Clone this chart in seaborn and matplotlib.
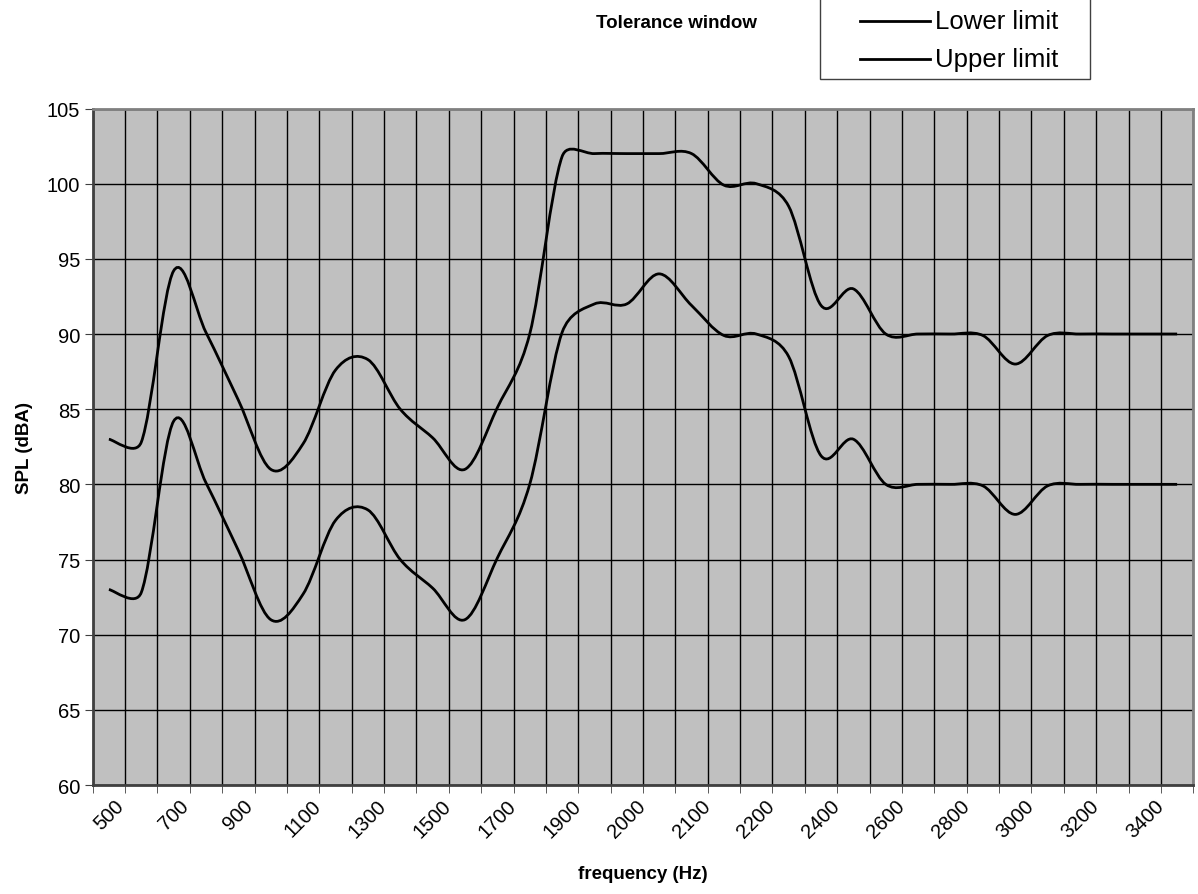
import numpy as np
import pandas as pd
import matplotlib
matplotlib.use("Agg")
import matplotlib.pyplot as plt
from matplotlib.path import Path
from matplotlib.patches import PathPatch, Rectangle
from matplotlib.lines import Line2D
import seaborn as sns

# data (one value per frequency category)
freq = [500, 600, 700, 800, 900, 1000, 1100, 1200, 1300, 1400, 1500, 1600, 1700, 1800,
        1900, 1950, 2000, 2050, 2100, 2150, 2200, 2300, 2400, 2500, 2600, 2700, 2800,
        2900, 3000, 3100, 3200, 3300, 3400, 3500]
lower_limit = [73.0, 72.8, 84.2, 80.1, 75.6, 71.0, 72.7, 77.6, 78.3, 75.0, 73.1, 71.0,
               75.1, 80.0, 90.1, 92.0, 92.0, 94.0, 91.9, 89.9, 90.0, 88.5, 81.9, 83.0,
               80.0, 80.0, 80.0, 79.9, 78.0, 79.9, 80.0, 80.0, 80.0, 80.0]
upper_limit = [83.0, 82.8, 94.2, 90.1, 85.6, 81.0, 82.7, 87.6, 88.3, 85.0, 83.1, 81.0,
               85.1, 90.0, 101.8, 102.0, 102.0, 102.0, 102.0, 99.9, 100.0, 98.5, 91.9,
               93.0, 90.0, 90.0, 90.0, 89.9, 88.0, 89.9, 90.0, 90.0, 90.0, 90.0]
series_names = ['Lower limit', 'Upper limit']

df = pd.DataFrame({'pos': list(range(len(freq))) * 2,
                   'spl': lower_limit + upper_limit,
                   'series': [series_names[0]] * len(freq) + [series_names[1]] * len(freq)})

plt.rcParams['font.family'] = ['Liberation Sans', 'DejaVu Sans']

W, H = 1198, 895
fig = plt.figure(figsize=(W / 100, H / 100), dpi=100)
ax = fig.add_axes([92.7 / W, 1 - 786 / H, (1193.3 - 92.7) / W, (786 - 109.5) / H])
ax.set_facecolor('#C0C0C0')

sns.lineplot(data=df, x='pos', y='spl', hue='series', palette=['black', 'black'],
             linewidth=2, legend=False, ax=ax)

ax.set_xlim(-0.5, len(freq) - 0.5)
ax.set_ylim(60, 105)


# Excel-like smoothed line: bezier through the data points, with the
# control arms limited to half the segment length (in screen space)
def smooth_path(xs, ys):
    P = ax.transData.transform(np.column_stack([xs, ys]))
    n = len(P)

    def arm(i, seg):
        a = P[min(i + 1, n - 1)] - P[max(i - 1, 0)]
        a = a / 6
        la = np.hypot(*a)
        lim = 0.5 * np.hypot(*seg)
        if la > lim:
            a = a * lim / la
        return a

    verts = [P[0]]
    codes = [Path.MOVETO]
    for i in range(n - 1):
        seg = P[i + 1] - P[i]
        c1 = P[i] + arm(i, seg)
        c2 = P[i + 1] - arm(i + 1, seg)
        verts += [c1, c2, P[i + 1]]
        codes += [Path.CURVE4] * 3
    verts = ax.transData.inverted().transform(np.array(verts))
    return Path(verts, codes)


for line in list(ax.lines):
    xs, ys = line.get_data()
    ax.add_patch(PathPatch(smooth_path(np.asarray(xs, float), np.asarray(ys, float)),
                           fill=False, edgecolor='black', lw=2, zorder=3))
    line.remove()

ax.set_yticks(range(60, 106, 5))
ax.set_xticks(range(0, len(freq) - 1, 2))
ax.set_xticklabels([str(f) for f in freq[0:len(freq) - 1:2]], rotation=45, ha='center')
ax.set_xticks(np.arange(-0.5, len(freq), 1), minor=True)
ax.tick_params(axis='x', which='major', length=0, labelsize=14.5, pad=8)
ax.tick_params(axis='x', which='minor', length=6, color='#404040')
ax.tick_params(axis='y', length=6, color='#404040', labelsize=14.5, pad=3)
ax.grid(axis='x', which='minor', color='black', lw=1)
ax.grid(axis='y', which='major', color='black', lw=1)
ax.set_axisbelow(True)

for s in ['left', 'bottom']:
    ax.spines[s].set_color('#404040')
    ax.spines[s].set_linewidth(2)
for s in ['top', 'right']:
    ax.spines[s].set_color('#808080')
    ax.spines[s].set_linewidth(2)

ax.set_xlabel('frequency (Hz)', fontsize=13.5, fontweight='bold', labelpad=17)
ax.set_ylabel('SPL (dBA)', fontsize=13.5, fontweight='bold', labelpad=10)

fig.text(676 / W, 1 - 23 / H, 'Tolerance window', fontsize=13.5, fontweight='bold',
         ha='center', va='center')

# legend box, its top runs off the figure like in the original
fig.add_artist(Rectangle((820 / W, 1 - 80 / H), 270 / W, 100 / H,
                         transform=fig.transFigure, facecolor='white',
                         edgecolor='#404040', lw=1))
for name, yy in zip(series_names, [22, 60]):
    fig.add_artist(Line2D([860 / W, 930 / W], [1 - yy / H] * 2,
                          transform=fig.transFigure, color='black', lw=2))
    fig.text(935 / W, 1 - yy / H, name, fontsize=18.5, ha='left', va='center')

fig.savefig('out.png', dpi=100)
